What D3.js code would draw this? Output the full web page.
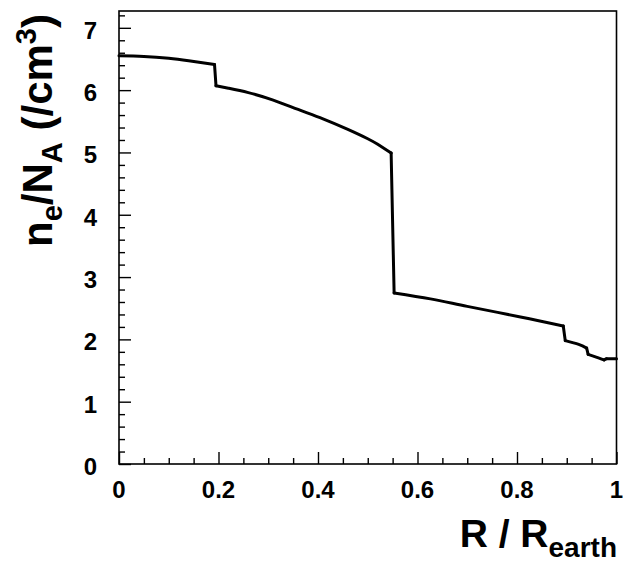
<!DOCTYPE html>
<html>
<head>
<meta charset="utf-8">
<script src="https://cdn.jsdelivr.net/npm/d3@7"></script>
<style>
  html, body { margin: 0; padding: 0; background: #fff; }
  svg { display: block; }
  text { font-family: "Liberation Sans", Arial, Helvetica, sans-serif; font-weight: bold; fill: #000; }
</style>
</head>
<body>
<svg id="chart" width="623" height="567"></svg>
<script>
'use strict';

// ── Data: electron density profile of the Earth ─────────────────────────────
// layer: 0 inner core, 1 outer core, 2 lower mantle, 3 transition zone, 4 upper mantle, 5 crust
const radius  = [0, 0.05, 0.10, 0.14, 0.192,
                 0.195, 0.22, 0.26, 0.31, 0.36, 0.41, 0.46, 0.50, 0.52, 0.547,
                 0.553, 0.626, 0.70, 0.807, 0.893,
                 0.897, 0.924, 0.940,
                 0.943, 0.965, 0.975,
                 0.98, 1.0];
const density = [6.55, 6.54, 6.51, 6.47, 6.41,
                 6.07, 6.03, 5.96, 5.84, 5.69, 5.54, 5.37, 5.22, 5.13, 4.99,
                 2.745, 2.65, 2.53, 2.36, 2.215,
                 1.98, 1.92, 1.86,
                 1.76, 1.70, 1.67,
                 1.69, 1.69];
const layer   = [0, 0, 0, 0, 0,
                 1, 1, 1, 1, 1, 1, 1, 1, 1, 1,
                 2, 2, 2, 2, 2,
                 3, 3, 3,
                 4, 4, 4,
                 5, 5];

const xTicks = [0, 0.2, 0.4, 0.6, 0.8, 1];
const yTicks = [0, 1, 2, 3, 4, 5, 6, 7];

// ── Frame ──────────────────────────────────────────────────────────────────
const X0 = 119, X1 = 616.5;
const Y0 = 464, Y1 = 11;

const x = d3.scaleLinear().domain([0, 1]).range([X0, X1]);
const y = d3.scaleLinear().domain([0, 7.27]).range([Y0, Y1]);

const svg = d3.select('#chart');

svg.append('rect')
  .attr('x', X0).attr('y', Y1)
  .attr('width', X1 - X0).attr('height', Y0 - Y1)
  .attr('fill', 'none')
  .attr('stroke', '#000')
  .attr('stroke-width', 1.6);

// ── Axes (ticks inside, ROOT style) ────────────────────────────────────────
const xAxis = d3.axisBottom(x)
  .tickValues(d3.range(0, 1.0001, 0.05))
  .tickSize(-6)
  .tickFormat('');

svg.append('g')
  .attr('transform', `translate(0, ${Y0})`)
  .call(xAxis)
  .call(ax => ax.select('.domain').remove())
  .call(ax => ax.selectAll('.tick line')
    .attr('stroke-width', 1.4)
    .attr('y2', d => xTicks.some(t => Math.abs(t - d) < 1e-6) ? -12 : -6));

const yAxis = d3.axisLeft(y)
  .tickValues(d3.range(0, 7.2001, 0.2))
  .tickSize(-6)
  .tickFormat('');

svg.append('g')
  .attr('transform', `translate(${X0}, 0)`)
  .call(yAxis)
  .call(ax => ax.select('.domain').remove())
  .call(ax => ax.selectAll('.tick line')
    .attr('stroke-width', 1.4)
    .attr('x2', d => yTicks.some(t => Math.abs(t - d) < 1e-6) ? 12 : 6));

// Tick labels
svg.append('g').selectAll('text')
  .data(xTicks)
  .join('text')
  .attr('x', d => x(d))
  .attr('y', 497.5)
  .attr('text-anchor', 'middle')
  .attr('font-size', '24px')
  .text(d => d3.format('~g')(d));

svg.append('g').selectAll('text')
  .data(yTicks)
  .join('text')
  .attr('x', 97)
  .attr('y', d => y(d) + 11)
  .attr('text-anchor', 'end')
  .attr('font-size', '24px')
  .text(d => d);

// ── Axis titles ────────────────────────────────────────────────────────────
const xt = svg.append('text')
  .attr('x', 617).attr('y', 547)
  .attr('text-anchor', 'end')
  .attr('font-size', '39px');
xt.append('tspan').text('R / R');
xt.append('tspan').attr('dy', 10).attr('font-size', '28px').text('earth');

const yt = svg.append('text')
  .attr('transform', 'translate(52, 14) rotate(-90)')
  .attr('text-anchor', 'end')
  .attr('font-size', '42px');
yt.append('tspan').text('n');
yt.append('tspan').attr('dy', 10).attr('font-size', '29px').text('e');
yt.append('tspan').attr('dy', -10).text('/N');
yt.append('tspan').attr('dy', 10).attr('font-size', '29px').text('A');
yt.append('tspan').attr('dy', -10).text(' (/cm');
yt.append('tspan').attr('dy', -16).attr('font-size', '29px').text('3');
yt.append('tspan').attr('dy', 16).text(')');

// ── Curve: smooth within each layer, straight steps between layers ────────
const idx = d3.range(radius.length);
const layers = d3.groups(idx, i => layer[i]).map(g => g[1]);

const smooth = d3.line()
  .x(i => x(radius[i]))
  .y(i => y(density[i]))
  .curve(d3.curveNatural);

const plot = svg.append('g')
  .attr('fill', 'none')
  .attr('stroke', '#000')
  .attr('stroke-width', 3)
  .attr('stroke-linecap', 'round')
  .attr('stroke-linejoin', 'round');

plot.selectAll('path.layer')
  .data(layers)
  .join('path')
  .attr('class', 'layer')
  .attr('d', smooth);

// discontinuities: last point of one layer to first point of the next
const steps = layers.slice(1).map((g, k) => [layers[k][layers[k].length - 1], g[0]]);
plot.selectAll('path.step')
  .data(steps)
  .join('path')
  .attr('class', 'step')
  .attr('d', d3.line().x(i => x(radius[i])).y(i => y(density[i])));
</script>
</body>
</html>
